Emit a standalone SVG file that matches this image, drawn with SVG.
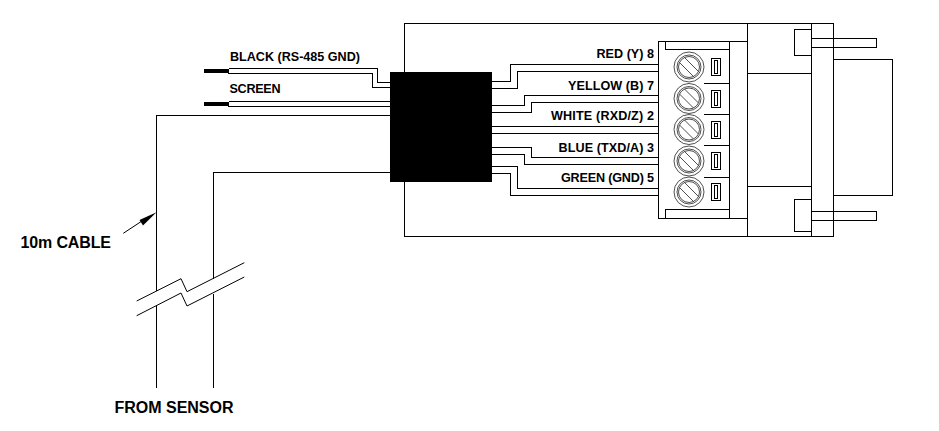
<svg xmlns="http://www.w3.org/2000/svg" xmlns:xlink="http://www.w3.org/1999/xlink" width="939" height="431" viewBox="0 0 939 431">
<style>
.l{fill:none;stroke:#000;stroke-width:1;shape-rendering:crispEdges}
.b{fill:none;stroke:#000;stroke-width:1}
.c{fill:none;stroke:#222;stroke-width:.8}
.t{font-family:"Liberation Sans",Arial,sans-serif;font-weight:700;font-size:12.6px;fill:#000}
.e{text-anchor:end}
.h{font-size:16px}
</style>
<defs>
<g id="screw">
<circle class="c" r="15"/><circle class="c" r="12"/><circle class="c" r="10.500"/>
<path class="c" d="M-9.500-4.500 4.500 9.500M-4.500-9.500 9.500 4.500"/>
<rect class="l" x="22.5" y="-8.5" width="9" height="17"/>
<rect class="l" x="25.5" y="-6.5" width="3" height="13"/>
</g>
</defs>
<rect width="939" height="431" fill="#fff"/>
<g id="enclosure">
<path class="l" d="M404.5 72V23.5H833.5V236.5H404.5V182"/>
</g>
<g id="connector">
<path class="l" d="M747.5 23.5V236.5M811.5 23.5V236.5M747.5 73.5H811.5M747.5 186.5H811.5"/>
<path class="l" d="M811.5 29.5H794.5V55.5H811.5M811.5 199.5H794.5V231.5H811.5"/>
<path class="l" d="M811.5 38.5H876.5V47.5H811.5M811.5 211.5H876.5V220.5H811.5"/>
<path class="l" d="M833.5 59.5H892.5V195.5H833.5"/>
</g>
<g id="terminal-block">
<rect x="658.5" y="41.5" width="89" height="177" fill="#fff" stroke="#000" shape-rendering="crispEdges"/>
<path class="l" d="M665.5 41.5V49.5H729.5M665.5 218.5V209.5H729.5M729.5 41.5V218.5"/>
<path class="l" d="M703.5 83.5H729.5M703.5 114.5H729.5M703.5 145.5H729.5M703.5 177.5H729.5"/>
<use xlink:href="#screw" href="#screw" x="689" y="67"/>
<use xlink:href="#screw" href="#screw" x="689" y="98.500"/>
<use xlink:href="#screw" href="#screw" x="689" y="129.500"/>
<use xlink:href="#screw" href="#screw" x="689" y="161"/>
<use xlink:href="#screw" href="#screw" x="689" y="192"/>
</g>
<g id="connectors">
<path class="l" d="M228.500 68.500H377.500V82.500H390M228.500 73.500H372.500V87.500H390"/>
<path class="l" d="M228.500 101.500H390M228.500 106.500H390M228.500 68.500V73.500M228.500 101.500V106.500"/>
<path d="M204 71H228M204 104H228" fill="none" stroke="#000" stroke-width="4" shape-rendering="crispEdges"/>
<path class="l" d="M390 115.500H156.500V290.500M156.500 304.500V387.500M390 172.500H213.500V278.500M213.500 293.500V387.500"/>
<path class="l" d="M492 81.500H510.500V64.500H658M492 88.500H517.500V71.500H658M492 105.500H524.500V95.500H658M492 112.500H531.500V102.500H658M492 126.500H658M492 133.500H658M492 147.500H531.500V157.500H658M492 154.500H524.500V164.500H658M492 166.500H517.500V188.500H658M492 173.500H510.500V195.500H658"/>
<path class="b" d="M136.700 301 181 278.700 187 291.700 244.300 262.700M136.700 315.700 181 293 187 306 244.300 277"/>
<path class="b" d="M123.300 233.300 145 219"/>
<polygon points="156.500,212.300 139.500,220 143,225.500"/>
</g>
<g id="block"><rect x="390" y="72" width="102" height="110"/></g>
<g id="labels">
<text class="t" x="230" y="61" textLength="130">BLACK (RS-485 GND)</text>
<text class="t" x="229.500" y="93" textLength="51">SCREEN</text>
<text class="t e" x="654" y="58" textLength="57.500">RED (Y) 8</text>
<text class="t e" x="654" y="90" textLength="86">YELLOW (B) 7</text>
<text class="t e" x="654" y="120" textLength="103">WHITE (RXD/Z) 2</text>
<text class="t e" x="654" y="152" textLength="95.500">BLUE (TXD/A) 3</text>
<text class="t e" x="654" y="182" textLength="93">GREEN (GND) 5</text>
<text class="t h" x="20.500" y="248" textLength="90.500">10m CABLE</text>
<text class="t h" x="114.500" y="413" textLength="119">FROM SENSOR</text>
</g>
</svg>
